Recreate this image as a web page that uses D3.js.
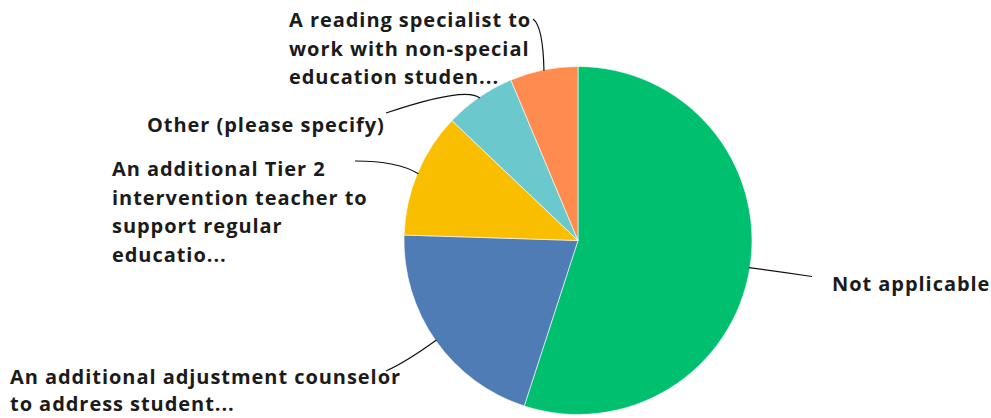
<!DOCTYPE html>
<html>
<head>
<meta charset="utf-8">
<script src="https://cdn.jsdelivr.net/npm/d3@7"></script>
<style>
  html, body { margin: 0; padding: 0; background: #fff; }
  svg { display: block; }
  text { font-family: "Open Sans", "Noto Sans", sans-serif; font-weight: 700; fill: #1b1b1b; }
</style>
</head>
<body>
<svg id="chart" width="991" height="418"></svg>
<script>
// ---- data ----
const categories = [
  "Not applicable",
  "An additional adjustment counselor to address student...",
  "An additional Tier 2 intervention teacher to support regular educatio...",
  "Other (please specify)",
  "A reading specialist to work with non-special education studen..."
];
const values = [55.0, 20.5, 11.6, 6.6, 6.3];
const labelLines = [
  ["Not applicable"],
  ["An additional adjustment counselor", "to address student..."],
  ["An additional Tier 2", "intervention teacher to", "support regular", "educatio..."],
  ["Other (please specify)"],
  ["A reading specialist to", "work with non-special", "education studen..."]
];

// ---- style / layout ----
const colors = ["#00BF6F", "#507CB6", "#F9BE00", "#6BC8CD", "#FF8B4F"];
const cx = 578, cy = 240.5, R = 174;
const fontSize = 20, lineH = 28.5, letterSp = 0.95;
const layout = [
  { x: 832, y: 291, end: [812, 276.5], ctrl: [782, 272] },
  { x: 10, y: 384, end: [386, 371], ctrl: [406, 362], lh: 27 },
  { x: 112, y: 176, end: [355, 161], ctrl: [398, 161] },
  { x: 147, y: 131.5, end: [386, 113], ctrl: [466, 86] },
  { x: 289, y: 27, end: [533, 19], ctrl: [543, 26] }
];

const svg = d3.select("#chart");
const g = svg.append("g").attr("transform", `translate(${cx},${cy})`);

const pie = d3.pie().sort(null).value(d => d).startAngle(0).endAngle(2 * Math.PI);
const arcs = pie(values);
const arc = d3.arc().innerRadius(0).outerRadius(R);

g.selectAll("path.slice")
  .data(arcs)
  .join("path")
  .attr("class", "slice")
  .attr("d", arc)
  .attr("fill", (d, i) => colors[i])
  .attr("stroke", "#fff")
  .attr("stroke-width", 0.6);

svg.append("g").selectAll("path.leader")
  .data(arcs)
  .join("path")
  .attr("class", "leader")
  .attr("fill", "none")
  .attr("stroke", "#111")
  .attr("stroke-width", 1.2)
  .attr("d", (d, i) => {
    const a = (d.startAngle + d.endAngle) / 2;
    const sx = cx + Math.sin(a) * (R - 1);
    const sy = cy - Math.cos(a) * (R - 1);
    const p = d3.path();
    p.moveTo(sx, sy);
    p.quadraticCurveTo(layout[i].ctrl[0], layout[i].ctrl[1], layout[i].end[0], layout[i].end[1]);
    return p.toString();
  });

const lg = svg.append("g");
labelLines.forEach((lines, i) => {
  const L = layout[i];
  const t = lg.append("text")
    .attr("x", L.x)
    .attr("y", L.y)
    .style("font-size", fontSize + "px")
    .style("letter-spacing", letterSp + "px");
  lines.forEach((ln, j) => {
    t.append("tspan")
      .attr("x", L.x)
      .attr("y", L.y + j * (L.lh || lineH))
      .text(ln);
  });
});
</script>
</body>
</html>
